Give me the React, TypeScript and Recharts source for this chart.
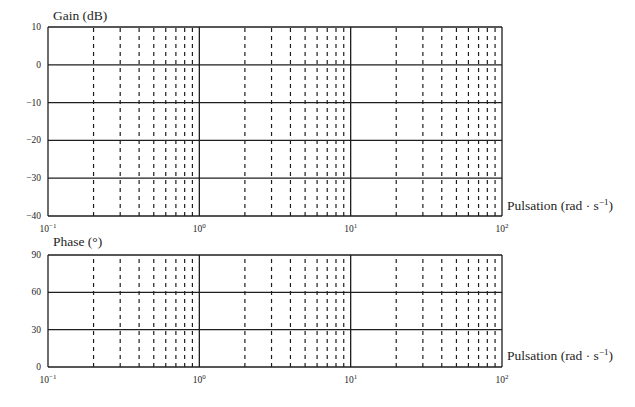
import React from 'react';
import { LineChart, XAxis, YAxis, ReferenceLine } from 'recharts';

// Bode plot grid (empty): gain and phase against pulsation
const decades = [0.1, 1, 10, 100];
const minorFreqs = [
  0.2, 0.3, 0.4, 0.5, 0.6, 0.7, 0.8, 0.9,
  2, 3, 4, 5, 6, 7, 8, 9,
  20, 30, 40, 50, 60, 70, 80, 90,
];
const gainTicks = [-40, -30, -20, -10, 0, 10];
const phaseTicks = [0, 30, 60, 90];

const FONT = '"Liberation Serif", "Times New Roman", serif';
const INK = '#1e1e1e';

const DecadeTick = (props: any) => {
  const { x, y, payload } = props;
  const exp = Math.round(Math.log10(payload.value));
  const expText = exp < 0 ? `\u2212${Math.abs(exp)}` : `${exp}`;
  return (
    <text x={x} y={y + 8} textAnchor="middle" fontFamily={FONT} fontSize={9.5} fill={INK}>
      <tspan>10</tspan>
      <tspan dy={-4} fontSize={7}>{expText}</tspan>
    </text>
  );
};

const ValueTick = (props: any) => {
  const { x, y, payload } = props;
  const v = payload.value;
  const label = v < 0 ? `\u2212${Math.abs(v)}` : `${v}`;
  return (
    <text x={x + 1} y={y + 3} textAnchor="end" fontFamily={FONT} fontSize={9.5} fill={INK}>
      {label}
    </text>
  );
};

const BodePanel: React.FC<{
  height: number;
  top: number;
  bottom: number;
  ticks: number[];
  domain: [number, number];
}> = ({ height, top, bottom, ticks, domain }) => (
  <LineChart
    width={635}
    height={height}
    data={[]}
    margin={{ top, right: 133, left: 0, bottom }}
  >
    <XAxis
      type="number"
      dataKey="w"
      scale="log"
      domain={[0.1, 100]}
      ticks={decades}
      allowDataOverflow
      axisLine={false}
      tickLine={false}
      height={24}
      tick={<DecadeTick />}
      interval={0}
    />
    <YAxis
      type="number"
      domain={domain}
      ticks={ticks}
      allowDataOverflow
      axisLine={false}
      tickLine={false}
      width={48}
      tick={<ValueTick />}
      interval={0}
    />
    {minorFreqs.map((f) => (
      <ReferenceLine
        key={`m${f}`}
        x={f}
        stroke={INK}
        strokeWidth={1.2}
        strokeDasharray="4 4"
        ifOverflow="visible"
      />
    ))}
    {ticks.map((t) => (
      <ReferenceLine key={`h${t}`} y={t} stroke={INK} strokeWidth={1.3} ifOverflow="visible" />
    ))}
    {decades.map((d) => (
      <ReferenceLine key={`d${d}`} x={d} stroke={INK} strokeWidth={1.3} ifOverflow="visible" />
    ))}
  </LineChart>
);

const labelStyle: React.CSSProperties = {
  position: 'absolute',
  fontFamily: FONT,
  fontSize: 13.5,
  color: INK,
  whiteSpace: 'nowrap',
  lineHeight: '13px',
};

const Pulsation = () => (
  <span>
    Pulsation (rad · s<sup style={{ fontSize: 9, verticalAlign: 'super', lineHeight: 0 }}>−1</sup>)
  </span>
);

export default function App() {
  return (
    <div style={{ position: 'absolute', left: 0, top: 0, width: 635, height: 407, background: '#fff' }}>
      <div style={{ position: 'absolute', left: 0, top: 0 }}>
        <BodePanel height={240} top={27} bottom={0} ticks={gainTicks} domain={[-40, 10]} />
      </div>
      <div style={{ position: 'absolute', left: 0, top: 230 }}>
        <BodePanel height={177} top={25} bottom={16} ticks={phaseTicks} domain={[0, 90]} />
      </div>
      <div style={{ ...labelStyle, left: 53, top: 9 }}>Gain (dB)</div>
      <div style={{ ...labelStyle, left: 53, top: 235 }}>Phase (°)</div>
      <div style={{ ...labelStyle, left: 507, top: 199 }}><Pulsation /></div>
      <div style={{ ...labelStyle, left: 507, top: 349 }}><Pulsation /></div>
    </div>
  );
}
